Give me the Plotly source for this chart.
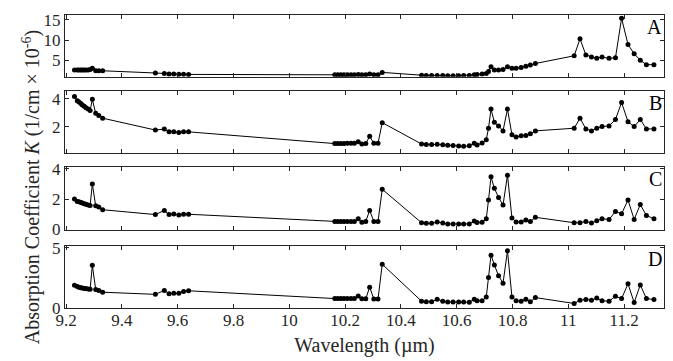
import plotly.graph_objects as go

# ---- data ----
wl_9r = [9.230, 9.240, 9.246, 9.253, 9.258, 9.265, 9.271, 9.279, 9.286, 9.294, 9.306, 9.317, 9.331]
wl_9p = [9.520, 9.552, 9.569, 9.586, 9.604, 9.621, 9.639]
wl_10r = [10.163, 10.174, 10.185, 10.196, 10.208, 10.221, 10.233, 10.247, 10.260, 10.274,
          10.288, 10.303, 10.318, 10.333]
wl_10p = [10.474, 10.491, 10.510, 10.530, 10.550, 10.568, 10.587, 10.607, 10.625, 10.645,
          10.663, 10.673, 10.691, 10.706, 10.714, 10.723, 10.735, 10.750, 10.766, 10.782,
          10.798, 10.813, 10.831, 10.848, 10.864, 10.882]
wl_11 = [11.021, 11.042, 11.063, 11.083, 11.102, 11.121, 11.146, 11.169, 11.191, 11.214,
         11.236, 11.258, 11.280, 11.307]
wavelength = wl_9r + wl_9p + wl_10r + wl_10p + wl_11

K_A = ([2.6, 2.6, 2.6, 2.6, 2.6, 2.6, 2.6, 2.6, 2.7, 3.0, 2.4, 2.4, 2.4]
       + [1.85, 1.7, 1.6, 1.6, 1.55, 1.55, 1.5]
       + [1.4, 1.4, 1.4, 1.4, 1.4, 1.4, 1.4, 1.5, 1.4, 1.4, 1.6, 1.4, 1.4, 2.0]
       + [1.3, 1.25, 1.2, 1.2, 1.2, 1.15, 1.15, 1.15, 1.2, 1.25, 1.4, 1.5, 1.6, 1.75, 2.2,
          3.4, 2.6, 2.6, 2.7, 3.4, 3.0, 3.0, 3.2, 3.5, 3.8, 4.2]
       + [6.1, 10.3, 6.3, 5.8, 5.5, 5.8, 5.5, 5.6, 15.4, 8.9, 6.6, 5.0, 3.9, 3.9])
K_B = ([4.15, 3.85, 3.75, 3.65, 3.55, 3.45, 3.35, 3.25, 3.15, 3.95, 2.95, 2.8, 2.6]
       + [1.75, 1.82, 1.62, 1.63, 1.58, 1.62, 1.62]
       + [0.78, 0.78, 0.78, 0.78, 0.80, 0.80, 0.80, 0.92, 0.75, 0.78, 1.30, 0.80, 0.80, 2.28]
       + [0.75, 0.72, 0.72, 0.74, 0.70, 0.66, 0.64, 0.60, 0.58, 0.62, 0.80, 0.68, 0.82, 1.06,
          1.88, 3.25, 2.30, 2.04, 1.69, 3.25, 1.41, 1.25, 1.34, 1.36, 1.48, 1.69]
       + [1.88, 2.6, 1.83, 1.69, 1.88, 2.0, 2.04, 2.51, 3.72, 2.35, 2.0, 2.51, 1.83, 1.83])
K_C = ([2.0, 1.85, 1.82, 1.78, 1.74, 1.70, 1.66, 1.62, 1.58, 3.0, 1.56, 1.48, 1.30]
       + [0.98, 1.25, 0.98, 1.02, 0.95, 1.0, 1.0]
       + [0.53, 0.53, 0.53, 0.53, 0.53, 0.53, 0.53, 0.70, 0.48, 0.53, 1.25, 0.53, 0.53, 2.65]
       + [0.44, 0.40, 0.40, 0.49, 0.42, 0.36, 0.36, 0.36, 0.36, 0.36, 0.55, 0.46, 0.48, 0.70,
          1.94, 3.47, 2.72, 2.11, 1.61, 3.58, 0.75, 0.49, 0.49, 0.62, 0.52, 0.80]
       + [0.44, 0.44, 0.53, 0.42, 0.57, 0.70, 0.66, 1.18, 1.03, 1.94, 0.66, 1.64, 0.92, 0.70])
K_D = ([1.88, 1.78, 1.72, 1.68, 1.65, 1.62, 1.60, 1.57, 1.55, 3.55, 1.53, 1.45, 1.30]
       + [1.12, 1.45, 1.18, 1.22, 1.22, 1.35, 1.42]
       + [0.77, 0.77, 0.77, 0.77, 0.77, 0.77, 0.77, 0.99, 0.75, 0.75, 1.72, 0.73, 0.73, 3.64]
       + [0.55, 0.50, 0.50, 0.71, 0.55, 0.48, 0.48, 0.48, 0.48, 0.46, 0.71, 0.58, 0.58, 0.90,
          2.54, 4.40, 3.58, 2.68, 2.05, 4.77, 0.90, 0.58, 0.55, 0.71, 0.50, 0.85]
       + [0.36, 0.63, 0.69, 0.63, 0.82, 0.58, 0.55, 0.96, 0.77, 2.0, 0.44, 1.91, 0.77, 0.69])

panel_labels = ["A", "B", "C", "D"]
panel_values = [K_A, K_B, K_C, K_D]
y_ticks = [[5, 10, 15], [2, 4], [0, 2, 4], [0, 5]]
y_ranges = [[0.93, 16.2], [0.12, 4.54], [-0.03, 4.15], [-0.02, 5.14]]
x_ticks = [9.2, 9.4, 9.6, 9.8, 10, 10.2, 10.4, 10.6, 10.8, 11, 11.2]
x_ticklabels = ["9.2", "9.4", "9.6", "9.8", "10", "10.2", "10.4", "10.6", "10.8", "11", "11.2"]

# ---- layout ----
domains = [[0.7894, 1.0], [0.5297, 0.7403], [0.2667, 0.4827], [0.0, 0.2106]]
FONT = "Liberation Serif"
AX = "#262626"

fig = go.Figure()
layout = dict(
    width=673, height=361,
    margin=dict(l=65, r=8, t=10, b=53),
    paper_bgcolor="white", plot_bgcolor="white",
    showlegend=False,
    font=dict(family=FONT, size=17, color=AX),
)

for i, (lab, vals) in enumerate(zip(panel_labels, panel_values)):
    n = i + 1
    xa = "x" if n == 1 else f"x{n}"
    ya = "y" if n == 1 else f"y{n}"
    fig.add_trace(go.Scatter(
        x=wavelength, y=vals, mode="lines+markers", xaxis=xa, yaxis=ya,
        line=dict(color="black", width=1),
        marker=dict(color="black", size=5),
    ))
    xkey = "xaxis" if n == 1 else f"xaxis{n}"
    ykey = "yaxis" if n == 1 else f"yaxis{n}"
    layout[xkey] = dict(
        domain=[0, 1], anchor=ya, range=[9.196, 11.343],
        tickvals=x_ticks, ticktext=x_ticklabels, showticklabels=(n == 4),
        ticks="inside", ticklen=4, tickcolor=AX, mirror="ticks",
        showline=True, linecolor=AX, linewidth=1, showgrid=False, zeroline=False,
        tickfont=dict(family=FONT, size=17, color=AX),
    )
    if n != 1:
        layout[xkey]["matches"] = "x"
    layout[ykey] = dict(
        domain=domains[i], anchor=xa, range=y_ranges[i], tickvals=y_ticks[i],
        ticks="inside", ticklen=4, tickcolor=AX, mirror="ticks",
        showline=True, linecolor=AX, linewidth=1, showgrid=False, zeroline=False,
        tickfont=dict(family=FONT, size=17, color=AX),
    )
    fig.add_annotation(
        text=lab, xref=f"{xa} domain", yref=f"{ya} domain", x=1.0, y=0.8,
        xanchor="right", yanchor="middle", showarrow=False,
        font=dict(family=FONT, size=20, color="black"),
    )

layout["xaxis4"]["ticklabelstandoff"] = -3
layout["xaxis4"]["title"] = dict(text="Wavelength (µm)", font=dict(family=FONT, size=20, color=AX), standoff=8)

fig.update_layout(**layout)
fig.add_annotation(
    text="Absorption Coefficient <i>K</i> (1/cm × 10<sup>-6</sup>)",
    xref="paper", yref="paper", x=-0.056, y=0.414, textangle=-90,
    xanchor="center", yanchor="middle", showarrow=False,
    font=dict(family=FONT, size=20, color=AX),
)

fig.write_html("out.html", config={"displayModeBar": False},
               post_script="document.body.style.margin='0px';")
